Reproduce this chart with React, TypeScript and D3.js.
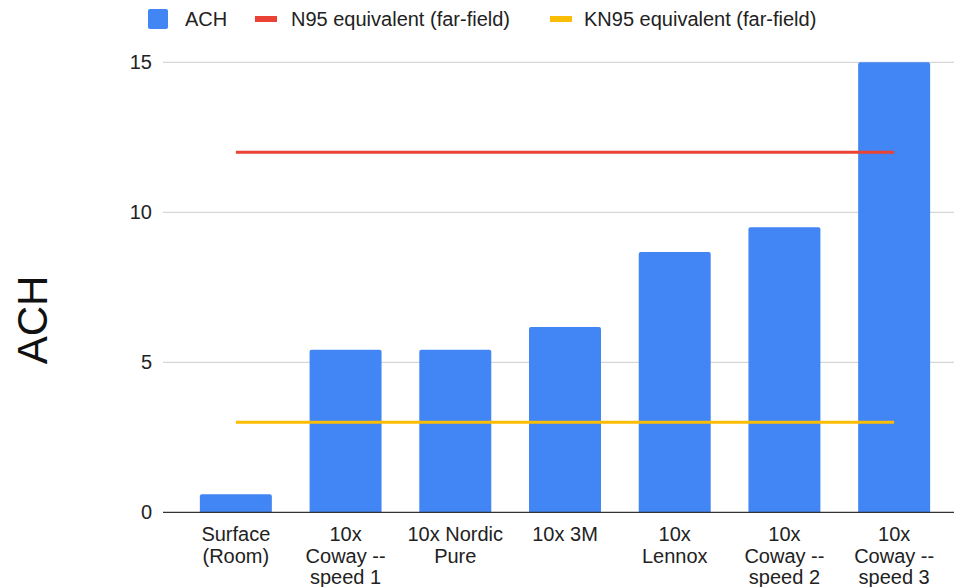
import React from "react";
import * as d3 from "d3";

const categories: string[][] = [
  ["Surface", "(Room)"],
  ["10x", "Coway --", "speed 1"],
  ["10x Nordic", "Pure"],
  ["10x 3M"],
  ["10x", "Lennox"],
  ["10x", "Coway --", "speed 2"],
  ["10x", "Coway --", "speed 3"],
];
const achValues: number[] = [0.6, 5.42, 5.42, 6.18, 8.68, 9.5, 15.0];
const n95Value = 12;
const kn95Value = 3;
const yTicks: number[] = [0, 5, 10, 15];
const legendLabels = ["ACH", "N95 equivalent (far-field)", "KN95 equivalent (far-field)"];

const W = 954;
const H = 587;
const FONT = "'Liberation Sans', Arial, Helvetica, sans-serif";
const BLUE = "#4285F4";
const RED = "#EA4335";
const YELLOW = "#FBBC04";

export default function App() {
  const keys = categories.map((_, i) => String(i));
  const x = d3.scaleBand<string>().domain(keys).range([181, 949]).paddingInner(0.344).paddingOuter(0.172);
  const y = d3.scaleLinear().domain([0, 15]).range([512.3, 62.3]);
  const gridLeft = 163;
  const gridRight = 954;
  const cx = (i: number) => (x(String(i)) ?? 0) + x.bandwidth() / 2;
  const lineX0 = cx(0);
  const lineX1 = cx(categories.length - 1);

  return (
    <svg width={W} height={H} style={{ position: "absolute", left: 0, top: 0, background: "#fff" }} fontFamily={FONT}>
      {/* legend */}
      <g>
        <rect x={148} y={9} width={20} height={20} rx={2} fill={BLUE} />
        <text x={185} y={26} fontSize={20} fill="#222">{legendLabels[0]}</text>
        <rect x={255} y={16} width={22} height={6} fill={RED} />
        <text x={291} y={26} fontSize={20} fill="#222">{legendLabels[1]}</text>
        <rect x={550} y={16} width={22} height={6} fill={YELLOW} />
        <text x={584} y={26} fontSize={20} fill="#222">{legendLabels[2]}</text>
      </g>
      {/* grid */}
      {yTicks.map((t) => (
        <g key={t}>
          {t !== 0 && (
            <line x1={gridLeft} x2={gridRight} y1={y(t)} y2={y(t)} stroke="#cccccc" strokeWidth={1} />
          )}
          <text x={152} y={y(t) + 7} fontSize={20} textAnchor="end" fill="#222">{t}</text>
        </g>
      ))}
      {/* y title */}
      <text
        transform={`translate(47,320) rotate(-90)`}
        fontSize={42}
        textAnchor="middle"
        fill="#111"
      >
        ACH
      </text>
      {/* bars */}
      {achValues.map((v, i) => (
        <path
          key={i}
          d={(() => {
            const x0 = x(String(i)) ?? 0;
            const w = x.bandwidth();
            const yt = y(v);
            const yb = y(0);
            const r = 2;
            return `M${x0},${yb}V${yt + r}Q${x0},${yt} ${x0 + r},${yt}H${x0 + w - r}Q${x0 + w},${yt} ${x0 + w},${yt + r}V${yb}Z`;
          })()}
          fill={BLUE}
        />
      ))}
      {/* baseline */}
      <line x1={gridLeft} x2={gridRight} y1={y(0)} y2={y(0)} stroke="#333" strokeWidth={1.2} />
      {/* reference lines */}
      <line x1={lineX0} x2={lineX1} y1={y(n95Value)} y2={y(n95Value)} stroke={RED} strokeWidth={3} />
      <line x1={lineX0} x2={lineX1} y1={y(kn95Value)} y2={y(kn95Value)} stroke={YELLOW} strokeWidth={3} />
      {/* x labels */}
      {categories.map((lines, i) => (
        <text key={i} x={cx(i)} y={541} fontSize={20} textAnchor="middle" fill="#222">
          {lines.map((l, j) => (
            <tspan key={j} x={cx(i)} y={541 + j * 21.5}>{l}</tspan>
          ))}
        </text>
      ))}
    </svg>
  );
}
